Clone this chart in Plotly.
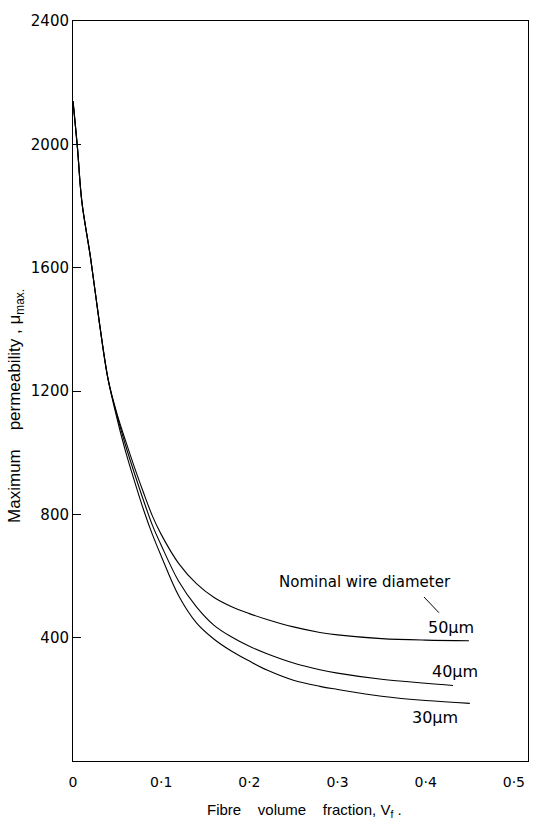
import plotly.graph_objects as go

# Fibre volume fraction and maximum permeability for each nominal wire diameter
vf_50 = [0, 0.005, 0.01, 0.02, 0.03, 0.04, 0.05, 0.06, 0.07, 0.08, 0.09, 0.10, 0.12, 0.14, 0.16, 0.18,
         0.20, 0.22, 0.25, 0.28, 0.30, 0.35, 0.40, 0.449]
mu_50 = [2140, 1990, 1815, 1630, 1420, 1235, 1125, 1035, 950, 870, 795, 735, 640, 575, 530, 500,
         478, 459, 435, 417, 409, 397, 392, 390]

vf_40 = [0, 0.005, 0.01, 0.02, 0.03, 0.04, 0.05, 0.06, 0.07, 0.08, 0.09, 0.10, 0.12, 0.14, 0.16, 0.18,
         0.20, 0.22, 0.25, 0.28, 0.30, 0.35, 0.40, 0.431]
mu_40 = [2140, 1990, 1815, 1630, 1420, 1235, 1120, 1020, 930, 845, 765, 700, 582, 500, 440, 402,
         372, 348, 318, 296, 285, 265, 252, 245]

vf_30 = [0, 0.005, 0.01, 0.02, 0.03, 0.04, 0.05, 0.06, 0.07, 0.08, 0.09, 0.10, 0.12, 0.14, 0.16, 0.18,
         0.20, 0.22, 0.25, 0.28, 0.30, 0.35, 0.40, 0.450]
mu_30 = [2140, 1990, 1815, 1630, 1420, 1235, 1110, 1000, 905, 815, 735, 665, 535, 448, 395, 356,
         324, 295, 262, 242, 232, 210, 196, 187]

x_ticks = [0, 0.1, 0.2, 0.3, 0.4, 0.5]
x_tick_text = ["0", "0\u00b71", "0\u00b72", "0\u00b73", "0\u00b74", "0\u00b75"]
y_ticks = [400, 800, 1200, 1600, 2000, 2400]

series = [("50\u03bcm", vf_50, mu_50), ("40\u03bcm", vf_40, mu_40), ("30\u03bcm", vf_30, mu_30)]

SANS = "Liberation Sans, Arial, sans-serif"
WIDE = "DejaVu Sans, sans-serif"
NB = "\u00a0"

fig = go.Figure()
for name, xs, ys in series:
    fig.add_trace(go.Scatter(
        x=xs, y=ys, mode="lines", name=name,
        line=dict(color="black", width=1.1, shape="spline", smoothing=1.0),
        showlegend=False,
    ))

# Curve labels
fig.add_annotation(x=0.331, y=581, text="Nominal wire diameter", showarrow=False,
                   font=dict(size=15, color="black", family=WIDE))
fig.add_shape(type="line", x0=0.398, y0=532, x1=0.415, y1=481,
              line=dict(color="black", width=1))
fig.add_annotation(x=0.429, y=432, text="50\u03bcm", showarrow=False,
                   font=dict(size=16, color="black", family=WIDE))
fig.add_annotation(x=0.433, y=290, text="40\u03bcm", showarrow=False,
                   font=dict(size=16, color="black", family=WIDE))
fig.add_annotation(x=0.410, y=142, text="30\u03bcm", showarrow=False,
                   font=dict(size=16, color="black", family=WIDE))

# Axis titles
fig.add_annotation(xref="paper", yref="paper", x=0.509, y=-0.067,
                   xanchor="center", yanchor="middle",
                   text=f"Fibre{NB*3} volume{NB*3} fraction,{NB}V<sub>f</sub>{NB}.",
                   showarrow=False, font=dict(size=15, color="black", family=SANS))
fig.add_annotation(xref="paper", yref="paper", x=-0.125, y=0.48, textangle=-90,
                   xanchor="center", yanchor="middle",
                   text=f"Maximum{NB*3} permeability{NB},{NB}\u03bc<sub>max.</sub>",
                   showarrow=False, font=dict(size=17, color="black", family=SANS))

fig.update_layout(
    width=541, height=829,
    margin=dict(l=73, r=12, t=17, b=68),
    paper_bgcolor="white", plot_bgcolor="white",
    font=dict(family=WIDE, color="black", size=14),
    xaxis=dict(
        range=[0, 0.516], tickmode="array", tickvals=x_ticks, ticktext=x_tick_text,
        showgrid=False, zeroline=False, showline=True, linecolor="black", linewidth=1,
        mirror=True, ticks="", tickfont=dict(size=14, family=WIDE), ticklabelstandoff=8,
    ),
    yaxis=dict(
        range=[0, 2400], tickmode="array", tickvals=y_ticks,
        showgrid=False, zeroline=False, showline=True, linecolor="black", linewidth=1,
        mirror=True, ticks="inside", ticklen=8, tickcolor="black",
        tickfont=dict(size=15, family=WIDE),
    ),
)

fig.write_html("out.html")
